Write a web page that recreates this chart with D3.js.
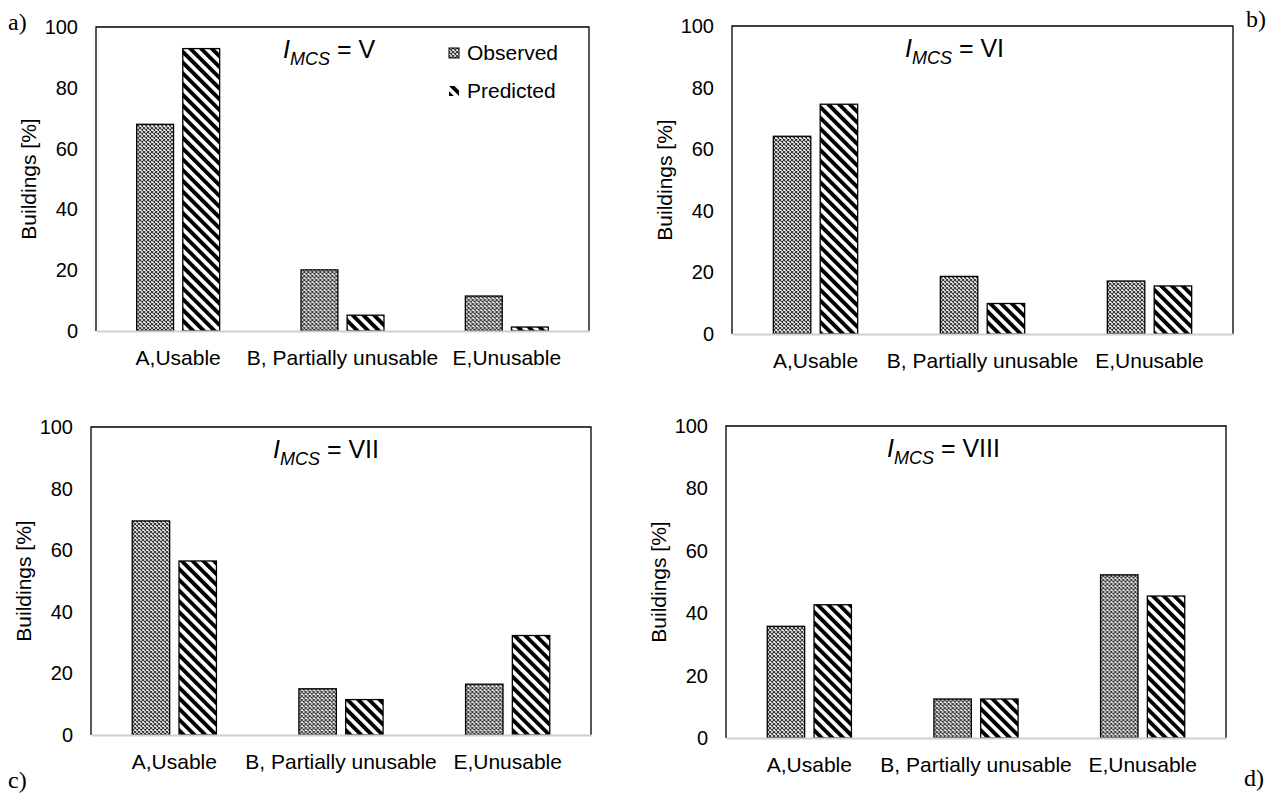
<!DOCTYPE html>
<html>
<head>
<meta charset="utf-8">
<script src="https://cdn.jsdelivr.net/npm/d3@7"></script>
<style>
  body { margin: 0; background: #fff; }
  text { font-family: "Liberation Sans", Arial, sans-serif; fill: #000; }
</style>
</head>
<body>
<div id="chart"></div>
<script>
// categories and series
const categories = ["A,Usable", "B, Partially unusable", "E,Unusable"];
const seriesNames = ["Observed", "Predicted"];
const intensities = ["V", "VI", "VII", "VIII"];
const panelLetters = ["a)", "b)", "c)", "d)"];
const yTicks = [0, 20, 40, 60, 80, 100];

// values (% of buildings)
const observed = [
  [68.0, 20.1, 11.5],
  [64.2, 18.7, 17.2],
  [69.5, 15.0, 16.5],
  [35.8, 12.5, 52.3]
];
const predicted = [
  [92.9, 5.2, 1.3],
  [74.6, 9.9, 15.6],
  [56.5, 11.5, 32.3],
  [42.7, 12.5, 45.5]
];

const width = 1275, height = 796;

// plot frames of the four panels
const frames = [
  { left: 96, top: 27, right: 589, bottom: 331, titleX: 187, letter: [8, 30] },
  { left: 732, top: 26, right: 1233, bottom: 334, titleX: 173, letter: [1246, 27] },
  { left: 91, top: 427, right: 591, bottom: 735, titleX: 182, letter: [8, 788] },
  { left: 726, top: 426, right: 1226, bottom: 738, titleX: 161, letter: [1244, 786] }
];

const svg = d3.select("#chart")
  .append("svg")
  .attr("width", width)
  .attr("height", height);

// patterns for the two series
const defs = svg.append("defs");

const dots = defs.append("pattern")
  .attr("id", "patObserved")
  .attr("patternUnits", "userSpaceOnUse")
  .attr("width", 4)
  .attr("height", 4);
dots.append("rect").attr("width", 4).attr("height", 4).attr("fill", "#fff");
dots.append("path")
  .attr("d", "M0,0L4,4M4,0L0,4")
  .attr("stroke", "#333")
  .attr("stroke-width", 1.1);

const stripes = defs.append("pattern")
  .attr("id", "patPredicted")
  .attr("patternUnits", "userSpaceOnUse")
  .attr("width", 7.6)
  .attr("height", 7.6)
  .attr("patternTransform", "rotate(-45)");
stripes.append("rect").attr("width", 7.6).attr("height", 7.6).attr("fill", "#fff");
stripes.append("rect").attr("width", 3.9).attr("height", 7.6).attr("fill", "#000");

const fills = { Observed: "url(#patObserved)", Predicted: "url(#patPredicted)" };

function drawPanel(i) {
  const f = frames[i];
  const g = svg.append("g");

  const x0 = d3.scaleBand()
    .domain(categories)
    .range([f.left, f.right]);

  const bw = x0.bandwidth();
  const x1 = d3.scaleBand()
    .domain(seriesNames)
    .range([bw * 0.2475, bw * 0.7525])
    .paddingInner(0.2);

  const y = d3.scaleLinear()
    .domain([0, 100])
    .range([f.bottom, f.top]);

  // frame (top, left, right in black)
  g.append("path")
    .attr("d", `M${f.left},${f.bottom}V${f.top}H${f.right}V${f.bottom}`)
    .attr("fill", "none")
    .attr("stroke", "#000")
    .attr("stroke-width", 1.3);

  // y axis
  const yAxis = g.append("g")
    .attr("transform", `translate(${f.left},0)`)
    .call(d3.axisLeft(y).tickValues(yTicks).tickSize(0).tickPadding(18));
  yAxis.select(".domain").remove();
  yAxis.selectAll("text")
    .style("font-size", "20px")
    .style("font-family", "Liberation Sans, Arial, sans-serif");

  // bars
  const rows = categories.map((c, k) => ({
    cat: c,
    vals: [
      { s: "Observed", v: observed[i][k] },
      { s: "Predicted", v: predicted[i][k] }
    ]
  }));

  g.selectAll(".grp")
    .data(rows)
    .enter()
    .append("g")
    .attr("transform", (d) => `translate(${x0(d.cat)},0)`)
    .selectAll("rect")
    .data((d) => d.vals)
    .enter()
    .append("rect")
    .attr("x", (d) => x1(d.s))
    .attr("y", (d) => y(d.v))
    .attr("width", x1.bandwidth())
    .attr("height", (d) => y(0) - y(d.v))
    .attr("fill", (d) => fills[d.s])
    .attr("stroke", "#000")
    .attr("stroke-width", 1.3);

  // x axis
  const xAxis = g.append("g")
    .attr("transform", `translate(0,${f.bottom})`)
    .call(d3.axisBottom(x0).tickSize(0).tickPadding(19));
  xAxis.select(".domain")
    .attr("stroke", "#cfcfcf")
    .attr("stroke-width", 2);
  xAxis.selectAll("text")
    .style("font-size", "21px")
    .style("font-family", "Liberation Sans, Arial, sans-serif");

  // y axis title
  g.append("text")
    .attr("transform", `translate(${f.left - 60},${(f.top + f.bottom) / 2}) rotate(-90)`)
    .attr("text-anchor", "middle")
    .style("font-size", "21px")
    .text("Buildings [%]");

  // panel title  I_MCS = ...
  const t = g.append("text")
    .attr("x", f.left + f.titleX)
    .attr("y", f.top + 31)
    .style("font-size", "25px");
  t.append("tspan").style("font-style", "italic").text("I");
  t.append("tspan")
    .style("font-style", "italic")
    .style("font-size", "18px")
    .attr("dy", 7)
    .text("MCS");
  t.append("tspan").attr("dy", -7).text("\u00a0= " + intensities[i]);

  // panel letter
  g.append("text")
    .attr("x", f.letter[0])
    .attr("y", f.letter[1])
    .style("font-family", "Liberation Serif, 'Times New Roman', serif")
    .style("font-size", "24px")
    .text(panelLetters[i]);

  // legend (panel a only)
  if (i === 0) {
    const legend = g.append("g").attr("transform", "translate(449,0)");
    seriesNames.forEach((s, k) => {
      const cy = 53 + k * 38;
      legend.append("rect")
        .attr("x", 0)
        .attr("y", cy - 5)
        .attr("width", 10)
        .attr("height", 10)
        .attr("fill", fills[s])
        .attr("stroke", s === "Observed" ? "#000" : "none")
        .attr("stroke-width", 1);
      legend.append("text")
        .attr("x", 18)
        .attr("y", cy)
        .attr("dy", "0.35em")
        .style("font-size", "21px")
        .text(s);
    });
  }
}

intensities.forEach((d, i) => drawPanel(i));
</script>
</body>
</html>
